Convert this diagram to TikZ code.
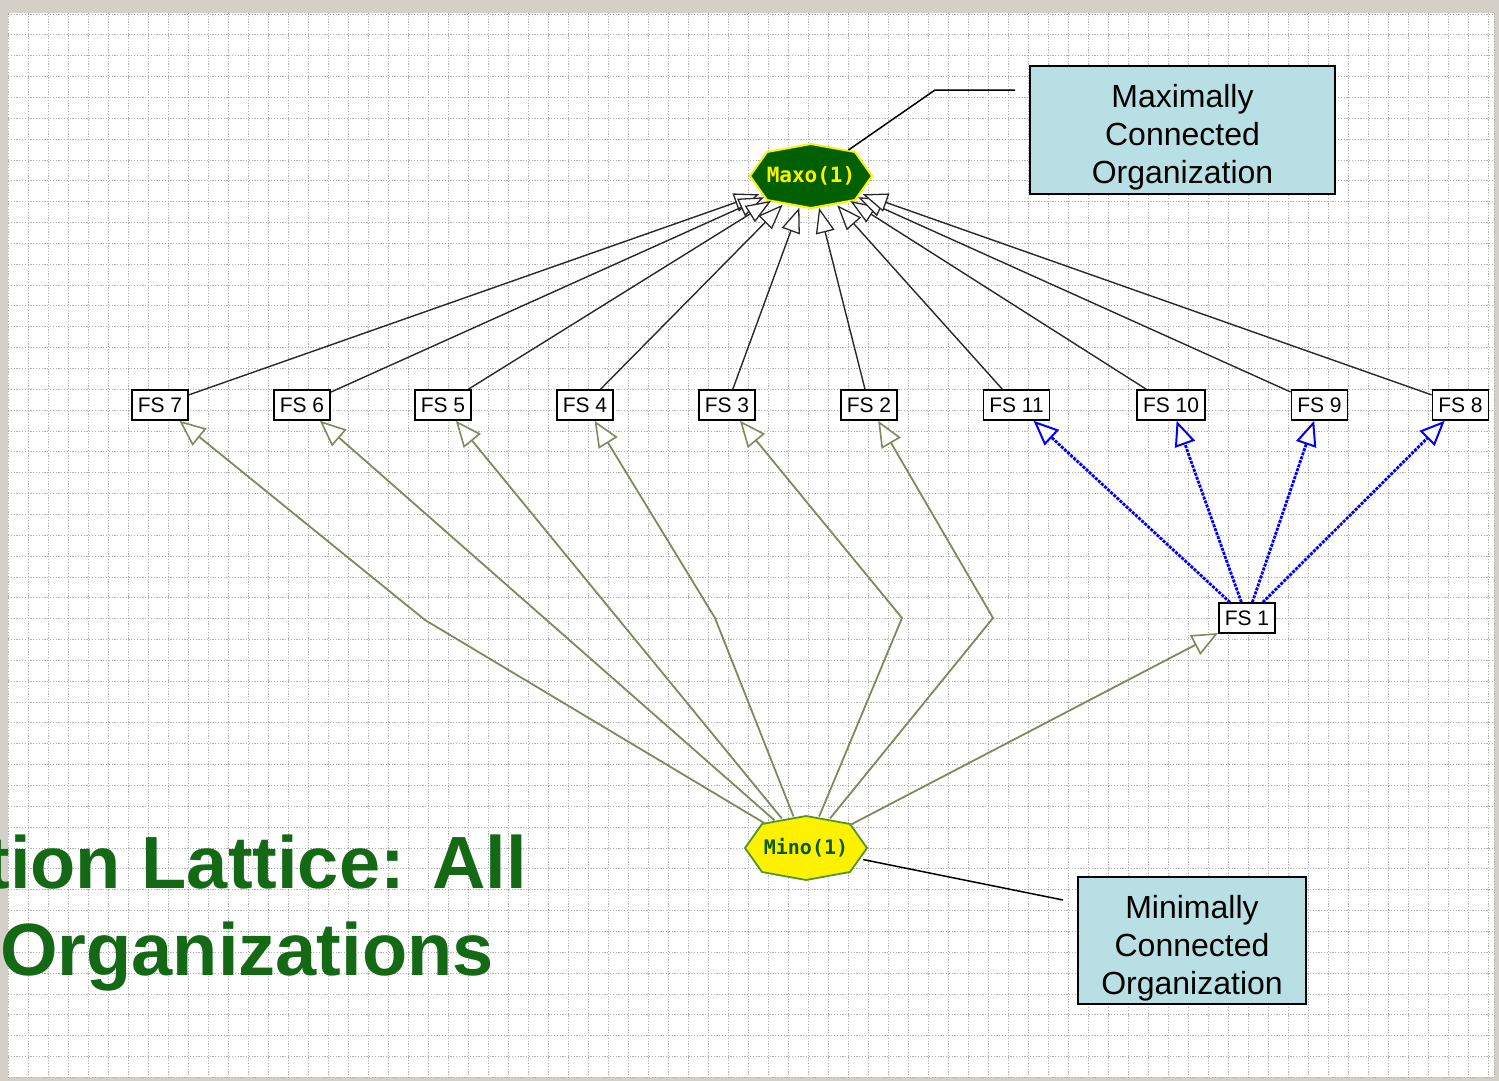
\documentclass[tikz,border=0pt]{standalone}
\usepackage{fontspec}
\setmainfont{Liberation Sans}
\newfontfamily\monob{DejaVu Sans Mono}
\usetikzlibrary{arrows.meta,shapes.geometric}
\definecolor{framec}{RGB}{212,208,200}
\definecolor{gridc}{RGB}{175,175,175}
\definecolor{maxofill}{RGB}{0,96,0}
\definecolor{titleg}{RGB}{20,105,20}
\definecolor{olivec}{RGB}{122,140,90}
\definecolor{callfill}{RGB}{184,223,227}
\definecolor{minoborder}{RGB}{80,150,40}
\definecolor{minotext}{RGB}{10,90,10}
\definecolor{upperc}{RGB}{40,40,40}
\tikzset{
  gridline/.style={gridc, line width=0.9pt, dash pattern=on 1.2pt off 1.6pt},
  fsbox/.style={draw=black, line width=1.5pt, fill=white, inner xsep=6pt, inner ysep=0pt,
    minimum height=30pt, font=\fontsize{21}{21}\selectfont},
  anchorell/.style={ellipse, minimum width=122pt, minimum height=64pt, inner sep=0pt},
  upperedge/.style={upperc, line width=1.4pt,
    -{Triangle[length=25pt,width=19pt,fill=white,line width=1.3pt]}},
  loweredge/.style={olivec, line width=1.8pt,
    -{Triangle[length=26pt,width=22pt,fill=white,line width=1.6pt]}},
  blueedge/.style={blue, line width=2.8pt, dash pattern=on 3pt off 1.2pt,
    -{Triangle[length=25pt,width=21pt,fill=white,line width=2pt]}},
  calloutbox/.style={draw=black, line width=2pt, fill=callfill, align=center,
    font=\fontsize{32}{38}\selectfont, inner sep=0pt},
  callline/.style={black, line width=1.5pt},
  titletext/.style={titleg, font=\fontsize{74}{74}\selectfont\bfseries, inner sep=0pt}
}
\begin{document}
\begin{tikzpicture}[x=1pt, y=-1pt]
\useasboundingbox (0,0) rectangle (1499,1081);
% frame and grid
\fill[framec] (0,0) rectangle (1499,1081);
\fill[white] (8,13) rectangle (1494,1077);
\foreach \x in {8,28,...,1488} \draw[gridline] (\x,13) -- (\x,1077);
\draw[gridline] (1494,13) -- (1494,1077);
\foreach \i [evaluate=\i as \yy using 14+\i*20.85] in {0,...,51}
  \draw[gridline] (8,\yy) -- (1494,\yy);

% title
\node[titletext, anchor=base east] (t1) at (527,888) {tion Lattice: All};
\node[titletext, anchor=base west] (t2) at (0,975) {Organizations};

% octagons
\coordinate (maxoc) at (811,176);
\coordinate (minoc) at (806,848);
\filldraw[fill=maxofill, draw=yellow, line width=2pt]
  (maxoc) +(-61,0) -- +(-44,-24) -- +(0,-32) -- +(44,-24) -- +(61,0)
  -- +(44,24) -- +(0,32) -- +(-44,24) -- cycle;
\filldraw[fill=yellow, draw=minoborder, line width=1.8pt]
  (minoc) +(-61,0) -- +(-44,-24) -- +(0,-32) -- +(44,-24) -- +(61,0)
  -- +(44,24) -- +(0,32) -- +(-44,24) -- cycle;
\node[anchorell, text=yellow, font=\monob\bfseries\fontsize{21}{21}\selectfont] (maxo) at (maxoc) {Maxo(1)};
\node[anchorell, text=minotext, font=\monob\bfseries\fontsize{20}{20}\selectfont] (mino) at (minoc) {Mino(1)};

% FS boxes
\node[fsbox] (fs7) at (160,405) {FS 7};
\node[fsbox] (fs6) at (302,405) {FS 6};
\node[fsbox] (fs5) at (443,405) {FS 5};
\node[fsbox] (fs4) at (585,405) {FS 4};
\node[fsbox] (fs3) at (727,405) {FS 3};
\node[fsbox] (fs2) at (869,405) {FS 2};
\node[fsbox] (fs11) at (1016.5,405) {FS 11};
\node[fsbox] (fs10) at (1171,405) {FS 10};
\node[fsbox] (fs9) at (1319.5,405) {FS 9};
\node[fsbox] (fs8) at (1460.5,405) {FS 8};
\node[fsbox] (fs1) at (1247,618) {FS 1};

% upper edges
\foreach \n in {fs7,fs6,fs5,fs4,fs3,fs2,fs11,fs10,fs9,fs8}
  \draw[upperedge] (\n) -- (maxo);

% lower edges
\coordinate (b7) at (425,620);
\coordinate (b4) at (715,618);
\coordinate (b3) at (902,618);
\coordinate (b2) at (993,618);
\draw[loweredge] (mino) -- (b7) -- (fs7);
\draw[loweredge] (mino) -- (fs6);
\draw[loweredge] (mino) -- (fs5);
\draw[loweredge] (mino) -- (b4) -- (fs4);
\draw[loweredge] (mino) -- (b3) -- (fs3);
\draw[loweredge] (mino) -- (b2) -- (fs2);
\draw[loweredge] (mino) -- (fs1);

% blue edges
\foreach \n in {fs11,fs10,fs9,fs8}
  \draw[blueedge] (fs1) -- (\n);

% callouts
\node[calloutbox, minimum width=305pt, minimum height=128pt] (maxlabel) at (1182.5,130)
  {\rule{0pt}{37pt}Maximally\\Connected\\Organization};
\node[calloutbox, minimum width=228pt, minimum height=127pt] (minlabel) at (1192,940.5)
  {\rule{0pt}{39pt}Minimally\\Connected\\Organization};
\coordinate (k1) at (935,90);
\coordinate (k2) at (1015,90);
\coordinate (k3) at (1063,900);
\draw[callline] (maxo) -- (k1) -- (k2);
\draw[callline] (mino) -- (k3);
\end{tikzpicture}
\end{document}
